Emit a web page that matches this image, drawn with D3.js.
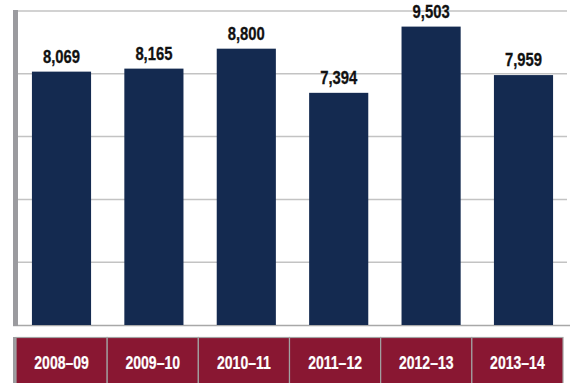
<!DOCTYPE html>
<html>
<head>
<meta charset="utf-8">
<script src="https://cdn.jsdelivr.net/npm/d3@7"></script>
<style>
  body { margin: 0; background: #fff; }
  svg { display: block; }
  .value { font-family: "Liberation Sans", Arial, sans-serif; font-weight: bold; font-size: 19px; fill: #111; stroke: #111; stroke-width: 0.3px; }
  .cat { font-family: "Liberation Sans", Arial, sans-serif; font-weight: bold; font-size: 18px; fill: #fff; stroke: #fff; stroke-width: 0.2px; }
</style>
</head>
<body>
<script>
var years = ["2008–09", "2009–10", "2010–11", "2011–12", "2012–13", "2013–14"];
var values = [8069, 8165, 8800, 7394, 9503, 7959];
var yTicks = [0, 2000, 4000, 6000, 8000, 10000];

var width = 571, height = 383;
var narrow = 0.78; // squeeze to look like a condensed face

var svg = d3.select("body").append("svg")
    .attr("width", width)
    .attr("height", height);

var y = d3.scaleLinear()
    .domain([0, 10000])
    .range([325, 11]);

var x = d3.scaleBand()
    .domain(years)
    .range([15.3, 569.7])
    .paddingInner(0.36)
    .paddingOuter(0.18);

// category strip uses its own band
var xCat = d3.scaleBand()
    .domain(years)
    .range([16, 563]);

// gridlines
svg.append("g")
  .selectAll("line")
  .data(yTicks.slice(1))
  .enter().append("line")
    .attr("x1", 18)
    .attr("x2", 567)
    .attr("y1", function(d) { return y(d); })
    .attr("y2", function(d) { return y(d); })
    .attr("stroke", "#c3c3c3")
    .attr("stroke-width", 1.5);

// bottom axis line
svg.append("line")
    .attr("x1", 13)
    .attr("x2", 570)
    .attr("y1", y(0) + 0.5)
    .attr("y2", y(0) + 0.5)
    .attr("stroke", "#a8a8a8")
    .attr("stroke-width", 1.5);

// left axis bar
svg.append("rect")
    .attr("x", 13)
    .attr("y", y(10000) - 1)
    .attr("width", 5)
    .attr("height", y(0) - y(10000) + 2)
    .attr("fill", "#9b9b9f");

// bars
svg.append("g")
  .selectAll("rect")
  .data(values)
  .enter().append("rect")
    .attr("x", function(d, i) { return x(years[i]); })
    .attr("y", function(d) { return y(d); })
    .attr("width", x.bandwidth())
    .attr("height", function(d) { return y(0) - y(d); })
    .attr("fill", "#142a50");

// value labels
svg.append("g")
  .selectAll("text")
  .data(values)
  .enter().append("text")
    .attr("class", "value")
    .attr("transform", function(d, i) {
      return "translate(" + (x(years[i]) + x.bandwidth() / 2) + "," + (y(d) - 9) + ") scale(" + narrow + ",1)";
    })
    .attr("text-anchor", "middle")
    .text(function(d) { return d3.format(",")(d); });

// category strip
var cat = svg.append("g");

cat.append("rect")
    .attr("x", 13)
    .attr("y", 337)
    .attr("width", 5)
    .attr("height", 46)
    .attr("fill", "#9b9b9f");

cat.selectAll("rect.cell")
  .data(years)
  .enter().append("rect")
    .attr("class", "cell")
    .attr("x", function(d) { return xCat(d); })
    .attr("y", 337.5)
    .attr("width", xCat.bandwidth())
    .attr("height", 50)
    .attr("fill", "#891732")
    .attr("stroke", "#a2a2a2")
    .attr("stroke-width", 1.2);

cat.selectAll("text")
  .data(years)
  .enter().append("text")
    .attr("class", "cat")
    .attr("transform", function(d) {
      return "translate(" + (xCat(d) + xCat.bandwidth() / 2) + ",369) scale(" + narrow + ",1)";
    })
    .attr("text-anchor", "middle")
    .text(function(d) { return d; });
</script>
</body>
</html>
